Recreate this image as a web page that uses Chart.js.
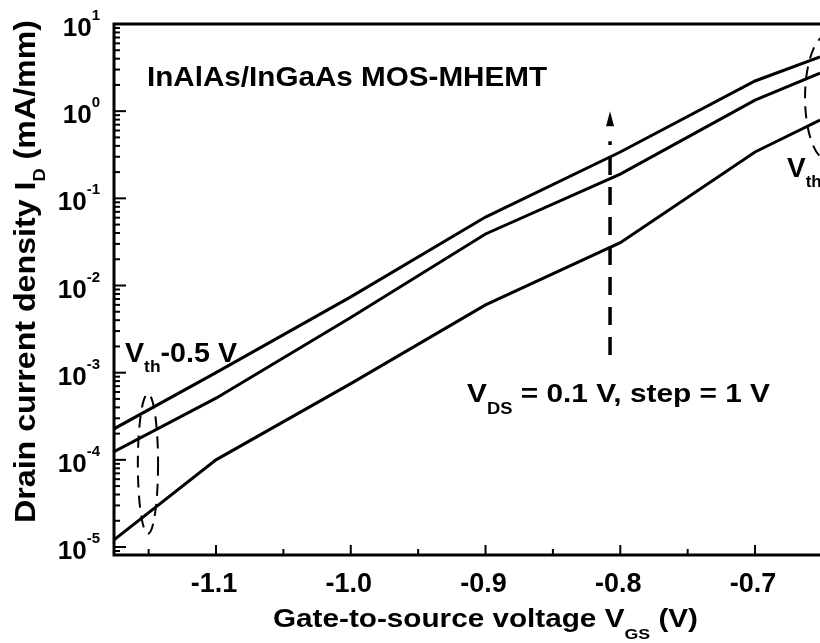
<!DOCTYPE html>
<html>
<head>
<meta charset="utf-8">
<script src="https://cdn.jsdelivr.net/npm/chart.js@4.4.0/dist/chart.umd.min.js"></script>
<style>
    html, body { margin: 0; padding: 0; background: #fff; }
    #wrap { width: 820px; height: 643px; }
</style>
</head>
<body>
<div id="wrap"><canvas id="idChart"></canvas></div>
<script>
// gate voltage (V) and drain current (mA/mm)
const vgs = [-1.1757, -1.1, -1.0, -0.9, -0.8, -0.7, -0.6518];
const idVds1 = [2.27e-4, 1.0e-3, 7.4e-3, 0.061, 0.34, 2.22, 4.2];
const idVds2 = [1.24e-4, 5.1e-4, 4.3e-3, 0.039, 0.19, 1.34, 2.74];
const idVds3 = [1.21e-5, 1.0e-4, 7.5e-4, 6.0e-3, 0.031, 0.34, 0.79];

// axis ticks
const xTicks = [-1.1, -1.0, -0.9, -0.8, -0.7];
const xTickLabels = ["-1.1", "-1.0", "-0.9", "-0.8", "-0.7"];
const xMinorTicks = [-1.15, -1.05, -0.95, -0.85, -0.75];
const yDecades = [1, 0, -1, -2, -3, -4, -5];

const FONT = '"Liberation Sans", Arial, sans-serif';

function toPoints(ys) {
    return vgs.map((x, i) => ({x: x, y: ys[i]}));
}

function textWidth(ctx, parts) {
    let w = 0;
    parts.forEach((p) => {
        ctx.font = "bold " + p[1] + "px " + FONT;
        w += ctx.measureText(p[0]).width;
    });
    return w;
}

// parts: [text, size, baseline shift]
function richText(ctx, parts, x, y, width) {
    const w = textWidth(ctx, parts);
    const sx = width ? width / w : 1;
    ctx.save();
    ctx.translate(x, y);
    ctx.scale(sx, 1);
    let cx = 0;
    parts.forEach((p) => {
        ctx.font = "bold " + p[1] + "px " + FONT;
        ctx.fillText(p[0], cx, p[2]);
        cx += ctx.measureText(p[0]).width;
    });
    ctx.restore();
}

function dashedEllipse(ctx, xs, ys, x0, x1, y0, y1) {
    const l = xs.getPixelForValue(x0), r = xs.getPixelForValue(x1);
    const t = ys.getPixelForValue(y1), b = ys.getPixelForValue(y0);
    ctx.save();
    ctx.setLineDash([12, 8]);
    ctx.lineWidth = 2;
    ctx.beginPath();
    ctx.ellipse((l + r) / 2, (t + b) / 2, (r - l) / 2, (b - t) / 2, 0, 0, Math.PI * 2);
    ctx.stroke();
    ctx.restore();
}

const frame = {
    id: "frame",
    afterDraw(chart) {
        const ctx = chart.ctx;
        const a = chart.chartArea;
        const xs = chart.scales.x;
        const ys = chart.scales.y;
        ctx.save();
        ctx.strokeStyle = "#000";
        ctx.fillStyle = "#000";
        ctx.textBaseline = "alphabetic";

        // box (right side is cut off in the original)
        ctx.lineWidth = 3;
        ctx.beginPath();
        ctx.moveTo(a.right + 2, a.top);
        ctx.lineTo(a.left, a.top);
        ctx.lineTo(a.left, a.bottom);
        ctx.lineTo(a.right + 2, a.bottom);
        ctx.stroke();

        // y ticks (inward)
        ctx.lineWidth = 2;
        yDecades.forEach((d) => {
            for (let m = 1; m <= 9; m++) {
                const v = m * Math.pow(10, d - 1);
                if (v < ys.min || v > ys.max) continue;
                const py = ys.getPixelForValue(v);
                ctx.beginPath();
                ctx.moveTo(a.left, py);
                ctx.lineTo(a.left + (m === 1 ? 12 : 6), py);
                ctx.stroke();
            }
        });
        // x ticks (inward)
        xTicks.forEach((v) => {
            const px = xs.getPixelForValue(v);
            ctx.beginPath();
            ctx.moveTo(px, a.bottom);
            ctx.lineTo(px, a.bottom - 10);
            ctx.stroke();
        });
        xMinorTicks.forEach((v) => {
            const px = xs.getPixelForValue(v);
            ctx.beginPath();
            ctx.moveTo(px, a.bottom);
            ctx.lineTo(px, a.bottom - 6);
            ctx.stroke();
        });

        // y tick labels 10^n
        yDecades.forEach((d) => {
            const py = ys.getPixelForValue(Math.pow(10, d));
            const parts = [["10", 26, 0], [String(d), 15, -16]];
            const w = textWidth(ctx, parts);
            richText(ctx, parts, 100 - w, py + 12);
        });
        // x tick labels
        xTicks.forEach((v, i) => {
            const px = xs.getPixelForValue(v);
            const parts = [[xTickLabels[i], 27, 0]];
            const w = textWidth(ctx, parts);
            richText(ctx, parts, px - 2 - w / 2, 592);
        });

        // axis titles
        richText(ctx, [["Gate-to-source voltage V", 25, 0], ["GS", 15, 12], [" (V)", 25, 0]], 273, 627, 425);
        ctx.save();
        ctx.translate(35, 523);
        ctx.rotate(-Math.PI / 2);
        richText(ctx, [["Drain current density I", 30, 0], ["D", 17, 10], [" (mA/mm)", 30, 0]], 0, 0, 503);
        ctx.restore();

        // annotations
        richText(ctx, [["InAlAs/InGaAs MOS-MHEMT", 28, 0]], 147, 86, 400);
        richText(ctx, [["V", 28, 0], ["th", 17, 10], ["-0.5 V", 28, 0]], 125, 362, 112);
        richText(ctx, [["V", 26, 0], ["DS", 16, 12], [" = 0.1 V, step = 1 V", 26, 0]], 467, 402, 303);
        richText(ctx, [["V", 28, 0], ["th", 17, 10]], 787, 177);

        dashedEllipse(ctx, xs, ys, -1.158, -1.143, 1.42e-5, 5.7e-4);
        dashedEllipse(ctx, xs, ys, -0.6629, -0.6295, 0.275, 7.48);

        // V_DS step arrow
        const ax = xs.getPixelForValue(-0.8076);
        const yTip = ys.getPixelForValue(1.0);
        const yEnd = ys.getPixelForValue(1.6e-3);
        ctx.save();
        ctx.lineWidth = 3.5;
        ctx.setLineDash([18, 12]);
        ctx.beginPath();
        ctx.moveTo(ax, yEnd);
        ctx.lineTo(ax, yTip + 30);
        ctx.stroke();
        ctx.restore();
        ctx.beginPath();
        ctx.moveTo(ax, yTip);
        ctx.lineTo(ax - 4, yTip + 15);
        ctx.lineTo(ax + 4, yTip + 15);
        ctx.closePath();
        ctx.fill();

        ctx.restore();
    },
};

const lineStyle = {
    borderColor: "#000",
    borderWidth: 3,
    pointRadius: 0,
    fill: false,
    tension: 0,
};

new Chart(document.getElementById("idChart"), {
    type: "line",
    data: {
        datasets: [
            {label: "Vth-0.5 V + 2 V", data: toPoints(idVds1), ...lineStyle},
            {label: "Vth-0.5 V + 1 V", data: toPoints(idVds2), ...lineStyle},
            {label: "Vth-0.5 V", data: toPoints(idVds3), ...lineStyle},
        ],
    },
    options: {
        responsive: true,
        maintainAspectRatio: false,
        animation: false,
        layout: {
            padding: {left: 114, top: 24, right: 0, bottom: 88},
        },
        scales: {
            x: {
                type: "linear",
                display: false,
                min: -1.1757,
                max: -0.6518,
            },
            y: {
                type: "logarithmic",
                display: false,
                min: 8.1e-6,
                max: 10,
            },
        },
        plugins: {
            legend: {display: false},
            tooltip: {enabled: false},
        },
    },
    plugins: [frame],
});
</script>
</body>
</html>
